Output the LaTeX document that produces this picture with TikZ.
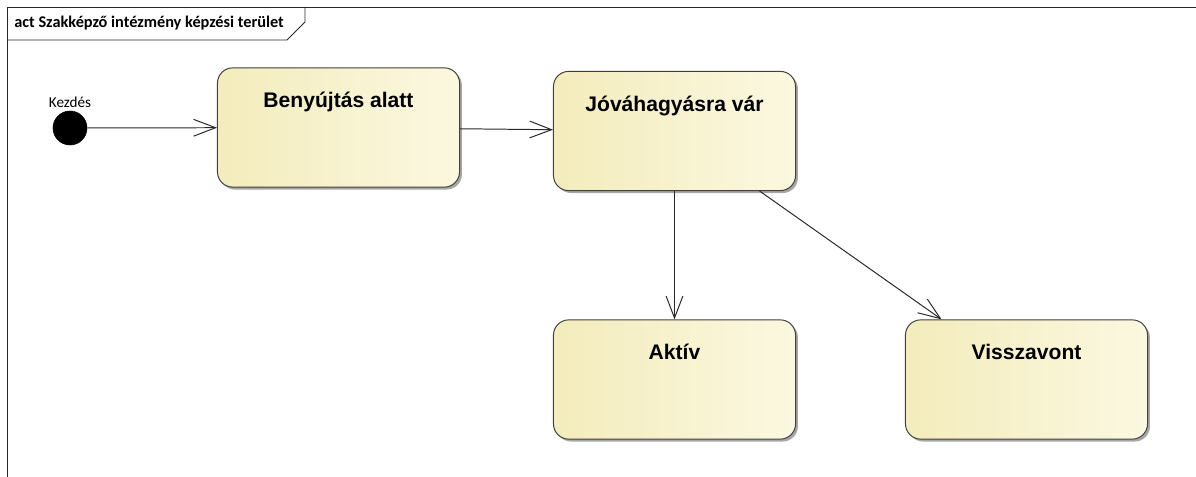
\documentclass[tikz,border=0pt]{standalone}
\usepackage{fontspec}
\setmainfont{Liberation Sans}
\newfontfamily\uifont{Carlito}
\usepackage{tikz}
\usetikzlibrary{arrows.meta,shapes,positioning,shadows}
\usepackage{xcolor}
\definecolor{stateleft}{RGB}{243,236,188}
\definecolor{stateright}{RGB}{251,248,224}
\definecolor{stateborder}{RGB}{64,64,64}
\definecolor{lineblack}{RGB}{40,40,40}
\tikzstyle{trans} = [line width=0.7pt,color=lineblack,-{Straight Barb[length=0.55cm,width=0.42cm,line width=0.7pt]}]
\tikzstyle{state} = [rectangle, rounded corners=0.38cm, minimum width=6.05cm, minimum height=2.98cm, text centered, draw=stateborder, line width=0.7pt, left color=stateleft, right color=stateright, drop shadow={shadow xshift=0.06cm, shadow yshift=-0.06cm, fill=black, opacity=0.35}, font=\fontsize{15}{18}\selectfont\bfseries, text height=0.5cm, text depth=1.48cm]
\tikzstyle{initial} = [circle, fill=black, draw=black, minimum size=0.85cm, inner sep=0pt]

\begin{document}
\begin{tikzpicture}[x=0.025cm, y=-0.025cm]
\useasboundingbox (0,0) rectangle (1196,477);

% Frame with its name tab
\draw[line width=0.7pt, color=lineblack] (7,477) -- (7,7) -- (1196,7);
\draw[line width=0.7pt, color=lineblack] (7,40) -- (287,40) -- (305,22) -- (305,7);
\node[anchor=west, inner sep=0pt] (frametitle) at (14,23) {\uifont\fontsize{11.6}{14}\selectfont\bfseries act Szakképző intézmény képzési terület};

% Initial state
\node[initial, label={[inner sep=2pt]above:{\uifont\fontsize{10.8}{13}\selectfont Kezdés}}] (start) at (70,128) {};

% States
\node[state] (ben) at (338.5,127.5) {Benyújtás alatt};
\node[state] (jov) at (674.5,131) {Jóváhagyásra vár};
\node[state] (akt) at (674.5,379.5) {Aktív};
\node[state] (vis) at (1026.5,379.5) {Visszavont};

% Transitions
\draw[trans] (start) -- (ben);
\draw[trans] (ben) -- (jov);
\draw[trans] (jov) -- (akt);
\draw[trans] (jov) -- (vis);
\end{tikzpicture}
\end{document}
